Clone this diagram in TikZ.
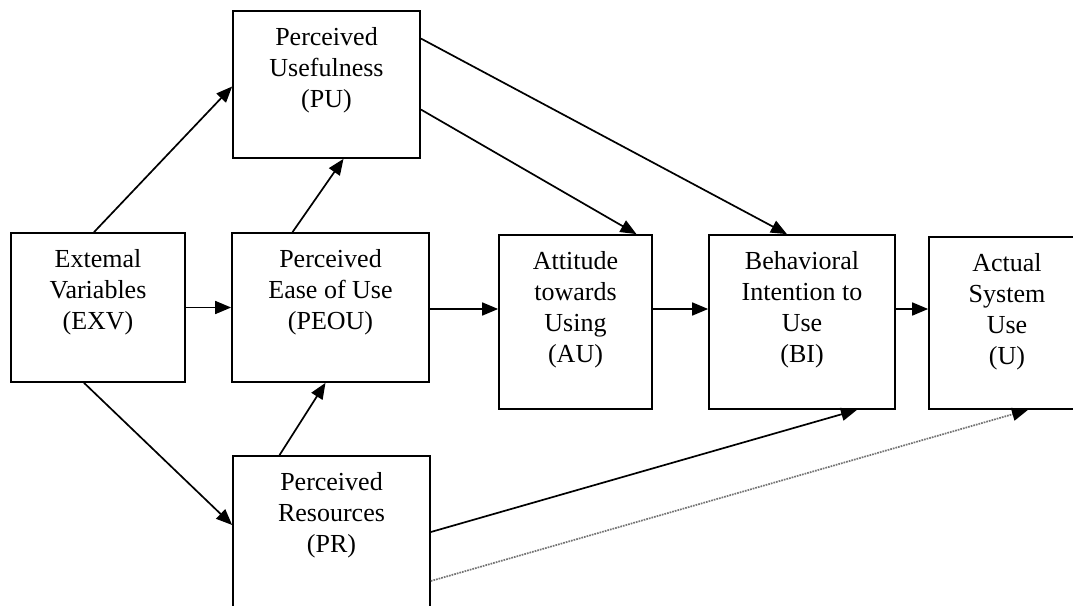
\documentclass[tikz,border=0pt]{standalone}
\usepackage{fontspec}
\setmainfont{Liberation Serif}
\usepackage{tikz}
\usetikzlibrary{
    arrows.meta,
    positioning,
    calc
}
\tikzstyle{box} = [
    rectangle,
    draw=black,
    line width=1.7pt,
    inner sep=0pt
]
\tikzstyle{lbl} = [
    anchor=north,
    align=center,
    inner sep=2pt,
    yshift=-15pt,
    font=\fontsize{26}{31}\selectfont
]
\tikzstyle{flow} = [
    -{Triangle[length=16pt,width=13pt]},
    line width=1.7pt,
    draw=black
]
\tikzstyle{weak} = [
    -{Triangle[length=16pt,width=13pt,color=black]},
    line width=1.7pt,
    draw=black!55,
    densely dotted
]

\begin{document}
\begin{tikzpicture}[x=1pt, y=-1pt]
    \clip (0,0) rectangle (1073,605);
    \fill[white] (0,0) rectangle (1073,605);

    % External variables
    \node[box, minimum width=174pt, minimum height=149pt,
          label={[lbl]north:Extemal\\Variables\\(EXV)}] (exv) at (98, 307.5) {};

    % Perceived constructs
    \node[box, minimum width=187pt, minimum height=147pt,
          label={[lbl]north:Perceived\\Usefulness\\(PU)}] (pu) at (326.5, 84.5) {};
    \node[box, minimum width=197pt, minimum height=149pt,
          label={[lbl]north:Perceived\\Ease of Use\\(PEOU)}] (peou) at (330.5, 307.5) {};
    \node[box, minimum width=197pt, minimum height=156pt,
          label={[lbl]north:Perceived\\Resources\\(PR)}] (pr) at (331.5, 534) {};

    % Attitude, intention, use
    \node[box, minimum width=153pt, minimum height=174pt,
          label={[lbl]north:Attitude\\towards\\Using\\(AU)}] (au) at (575.5, 322) {};
    \node[box, minimum width=186pt, minimum height=174pt,
          label={[lbl]north:Behavioral\\Intention to\\Use\\(BI)}] (bi) at (802, 322) {};
    \node[box, minimum width=156pt, minimum height=172pt,
          label={[lbl]north:Actual\\System\\Use\\(U)}] (u) at (1007, 323) {};

    % Arrows
    \draw[flow] ([xshift=-4pt]exv.north) -- ([yshift=-2pt]pu.west);
    \draw[flow] (exv.east) -- (peou.west);
    \draw[flow] ([xshift=-14pt]exv.south) -- ([yshift=9pt]pr.west);
    \draw[flow] ([xshift=-38pt]peou.north) -- ([xshift=17pt]pu.south);
    \draw[flow] ([xshift=-52pt]pr.north) -- ([xshift=-5pt]peou.south);
    \draw[flow] ([yshift=-1.5pt]peou.east) -- ([yshift=-1.5pt]peou.east -| au.west);
    \draw[flow] ([yshift=-1.5pt]peou.east -| au.east) -- ([yshift=-1.5pt]peou.east -| bi.west);
    \draw[flow] ([yshift=-1.5pt]peou.east -| bi.east) -- ([yshift=-1.5pt]peou.east -| u.west);
    \draw[flow] ([yshift=-25pt]pu.east) -- ([xshift=61pt]au.north);
    \draw[flow] ([yshift=46pt]pu.east) -- ([xshift=-15pt]bi.north);
    \draw[flow] ([yshift=2pt]pr.east) -- ([xshift=55pt]bi.south);
    \draw[weak] ([yshift=-47pt]pr.east) -- ([xshift=21pt]u.south);
\end{tikzpicture}
\end{document}
